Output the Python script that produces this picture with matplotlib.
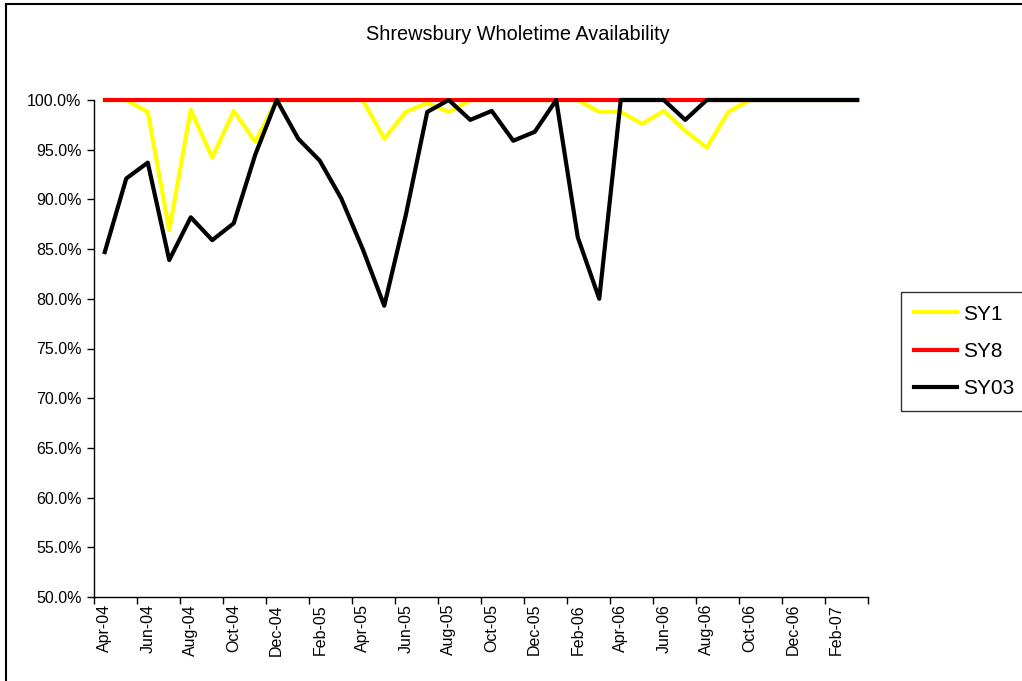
import matplotlib
matplotlib.use("Agg")
import matplotlib.pyplot as plt
from matplotlib.patches import Rectangle
import numpy as np

plt.rcParams['font.family'] = ['Liberation Sans', 'DejaVu Sans']

# monthly availability, Apr-04 .. Mar-07 (%)
months = ['Apr-04', 'May-04', 'Jun-04', 'Jul-04', 'Aug-04', 'Sep-04', 'Oct-04', 'Nov-04',
          'Dec-04', 'Jan-05', 'Feb-05', 'Mar-05', 'Apr-05', 'May-05', 'Jun-05', 'Jul-05',
          'Aug-05', 'Sep-05', 'Oct-05', 'Nov-05', 'Dec-05', 'Jan-06', 'Feb-06', 'Mar-06',
          'Apr-06', 'May-06', 'Jun-06', 'Jul-06', 'Aug-06', 'Sep-06', 'Oct-06', 'Nov-06',
          'Dec-06', 'Jan-07', 'Feb-07', 'Mar-07']

sy1 = [100.0, 100.0, 98.8, 86.9, 99.0, 94.2, 98.9, 95.8, 100.0, 100.0, 100.0, 100.0,
       100.0, 96.1, 98.8, 99.7, 98.8, 100.0, 100.0, 100.0, 100.0, 100.0, 100.0, 98.8,
       98.8, 97.6, 98.9, 96.9, 95.2, 98.8, 100.0, 100.0, 100.0, 100.0, 100.0, 100.0]
sy8 = [100.0] * 36
sy03 = [84.7, 92.1, 93.7, 83.9, 88.2, 85.9, 87.6, 94.5, 100.0, 96.1, 93.9, 90.1,
        85.0, 79.3, 88.4, 98.8, 100.0, 98.0, 98.9, 95.9, 96.8, 100.0, 86.2, 80.0,
        100.0, 100.0, 100.0, 98.0, 100.0, 100.0, 100.0, 100.0, 100.0, 100.0, 100.0, 100.0]

W, H = 1022, 681
fig = plt.figure(figsize=(W / 100, H / 100), dpi=100)
ax = fig.add_axes([94 / W, 1 - 597 / H, (868 - 94) / W, (597 - 100) / H])

x = np.arange(len(months)) + 0.5
ax.plot(x, sy1, color='#FFFF00', lw=3, label='SY1', clip_on=False)
ax.plot(x, sy8, color='#FF0000', lw=3, label='SY8', clip_on=False)
ax.plot(x, sy03, color='black', lw=3, label='SY03', clip_on=False)

ax.set_xlim(0, len(months))
ax.set_ylim(50, 100)

# y axis
ax.set_yticks(np.arange(50, 100.1, 5))
ax.set_yticklabels([f'{v:.1f}%' for v in np.arange(50, 100.1, 5)])
ax.tick_params(axis='y', direction='out', length=5, width=1, labelsize=11.5, pad=4)

# x axis: tick marks every two months, labels centred on the month
ax.set_xticks(np.arange(0, len(months) + 1, 2))
ax.set_xticklabels([])
ax.set_xticks(x[::2], minor=True)
ax.set_xticklabels(months[::2], minor=True, rotation=90, fontsize=11.5)
ax.tick_params(axis='x', which='major', direction='out', length=5, width=1)
ax.tick_params(axis='x', which='minor', length=0, pad=5)

for s in ['top', 'right']:
    ax.spines[s].set_visible(False)
for s in ['left', 'bottom']:
    ax.spines[s].set_linewidth(1)

fig.text(518 / W, 1 - 35 / H, 'Shrewsbury Wholetime Availability',
         ha='center', va='center', fontsize=14.3)

leg = ax.legend(loc='upper left', bbox_to_anchor=(901 / W, 1 - 292 / H),
                bbox_transform=fig.transFigure, fontsize=15, frameon=True,
                fancybox=False, handlelength=2.1, handletextpad=0.3,
                labelspacing=0.88, borderpad=0.6, borderaxespad=0)
leg.get_frame().set_edgecolor('black')
leg.get_frame().set_linewidth(1)

# outer chart border
fig.patches.append(Rectangle((6 / W, -0.05), 1.1, 1 - 4 / H + 0.05,
                             transform=fig.transFigure, fill=False,
                             edgecolor='black', lw=1.5))

fig.savefig('out.png', dpi=100)
